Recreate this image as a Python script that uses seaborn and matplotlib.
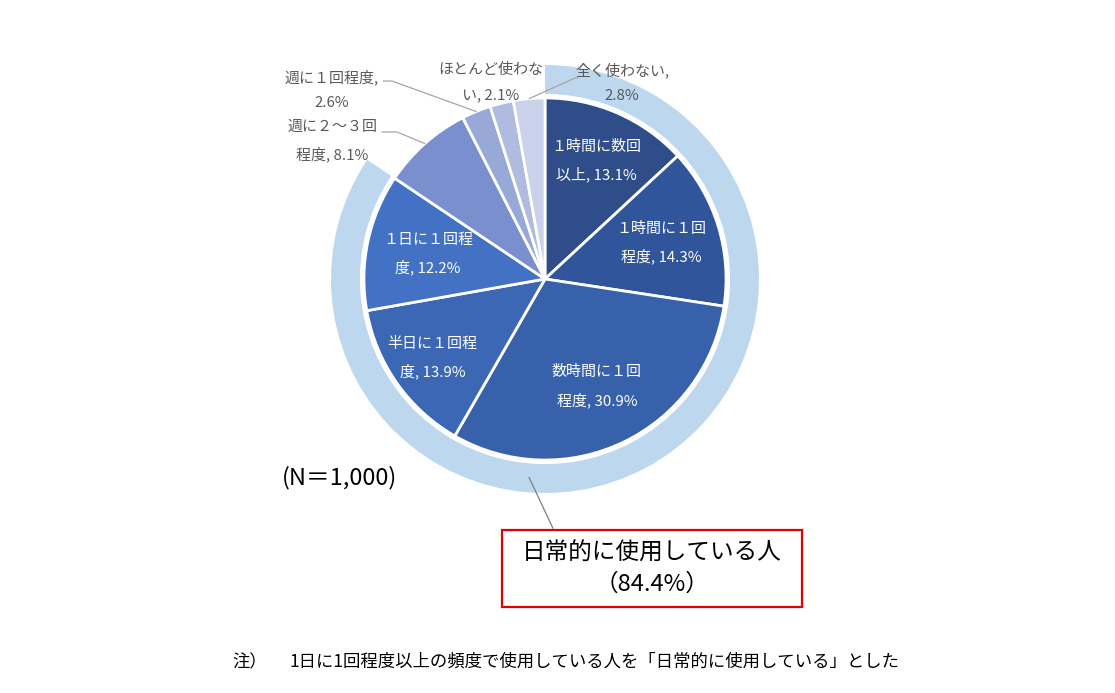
import numpy as np
import matplotlib
matplotlib.use("Agg")
import matplotlib.pyplot as plt
import seaborn as sns
from matplotlib.patches import Rectangle

sns.set_theme(style="white")
plt.rcParams['font.family'] = ['Noto Sans CJK JP', 'DejaVu Sans']

# ---- data ----
categories = ["１時間に数回以上", "１時間に１回程度", "数時間に１回程度", "半日に１回程度",
              "１日に１回程度", "週に２～３回程度", "週に１回程度", "ほとんど使わない", "全く使わない"]
values = [13.1, 14.3, 30.9, 13.9, 12.2, 8.1, 2.6, 2.1, 2.8]
label_texts = ["１時間に数回\n以上, 13.1%", "１時間に１回\n程度, 14.3%", "数時間に１回\n程度, 30.9%",
               "半日に１回程\n度, 13.9%", "１日に１回程\n度, 12.2%", "週に２～３回\n程度, 8.1%",
               "週に１回程度,\n2.6%", "ほとんど使わな\nい, 2.1%", "全く使わない,\n2.8%"]
ring_values = [84.4, 15.6]
ring_label = "日常的に使用している人\n（84.4%）"
n_label = "(N＝1,000)"
note_head = "注）"
note_text = "1日に1回程度以上の頻度で使用している人を「日常的に使用している」とした"

# ---- style ----
slice_colors = ["#2F4D89", "#31559B", "#3761AA", "#3C67B5", "#4371C3",
                "#7A90CE", "#98A8D7", "#B0BBE0", "#CAD1EA"]
ring_color = "#BDD7EE"
gray = "#595959"

W, H = 1115, 693
S = 214.0            # pixels per data unit
cx, cy = 545, 279    # pie centre (pixels from top-left)
fig = plt.figure(figsize=(W / 100, H / 100), dpi=100)
ax = fig.add_axes([0, 0, 1, 1])

R_PIE = 0.846
wedges, _ = ax.pie(values, colors=slice_colors, startangle=90, counterclock=False,
                   radius=R_PIE, wedgeprops=dict(edgecolor="white", linewidth=2))
ring, _ = ax.pie(ring_values, colors=[ring_color, "none"], startangle=90, counterclock=False,
                 radius=1.0, wedgeprops=dict(width=0.135, linewidth=0))

ax.set_xlim(-cx / S, (W - cx) / S)
ax.set_ylim(-(H - cy) / S, cy / S)
ax.axis("off")

def mid(w):
    return np.deg2rad((w.theta1 + w.theta2) / 2)

# inside labels (radius factors)
inside_r = [0.71, 0.67, 0.66, 0.76, 0.66]
for w, txt, rr in zip(wedges[:5], label_texts[:5], inside_r):
    a = mid(w)
    ax.text(rr * R_PIE * np.cos(a), rr * R_PIE * np.sin(a), txt,
            ha="center", va="center", color="white", fontsize=10.8, linespacing=2.0)

# outside labels
out_pos = [(-0.995, 0.645), (-0.995, 0.883), (-0.252, 0.916), (0.360, 0.916)]
for w, txt, (x, y) in zip(wedges[5:], label_texts[5:], out_pos):
    ax.text(x, y, txt, ha="center", va="center", color=gray, fontsize=10.8, linespacing=2.0)

# leader lines
def endpoint(w, rr=R_PIE):
    a = mid(w)
    return rr * np.cos(a), rr * np.sin(a)

ex, ey = endpoint(wedges[5])
ax.plot([-0.762, -0.692, ex], [0.687, 0.687, ey], color="#A6A6A6", lw=0.9)
ex, ey = endpoint(wedges[6])
ax.plot([-0.757, -0.715, ex], [0.925, 0.925, ey], color="#A6A6A6", lw=0.9)
ex, ey = endpoint(wedges[8])
ax.plot([ex, 0.140, 0.152], [ey, 0.939, 0.939], color="#A6A6A6", lw=0.9)

# ring callout
ra = np.deg2rad(-94.6)
ax.plot([0.93 * np.cos(ra), 0.037], [0.93 * np.sin(ra), -1.165], color="#7F7F7F", lw=0.9)
ax.add_patch(Rectangle((-0.20, -1.533), 1.40, 0.36, fill=False, edgecolor="#E00000", lw=1.6))
ax.text(0.50, -1.355, ring_label, ha="center", va="center", color="black",
        fontsize=17, linespacing=1.45)

ax.text(-0.958, -0.930, n_label, ha="center", va="center", color="black", fontsize=17)

ax.text(-1.463, -1.79, note_head, ha="left", va="center", color="black", fontsize=12.5)
ax.text(-1.192, -1.79, note_text, ha="left", va="center", color="black", fontsize=12.5)

fig.savefig("out.png", dpi=100, facecolor="white")
